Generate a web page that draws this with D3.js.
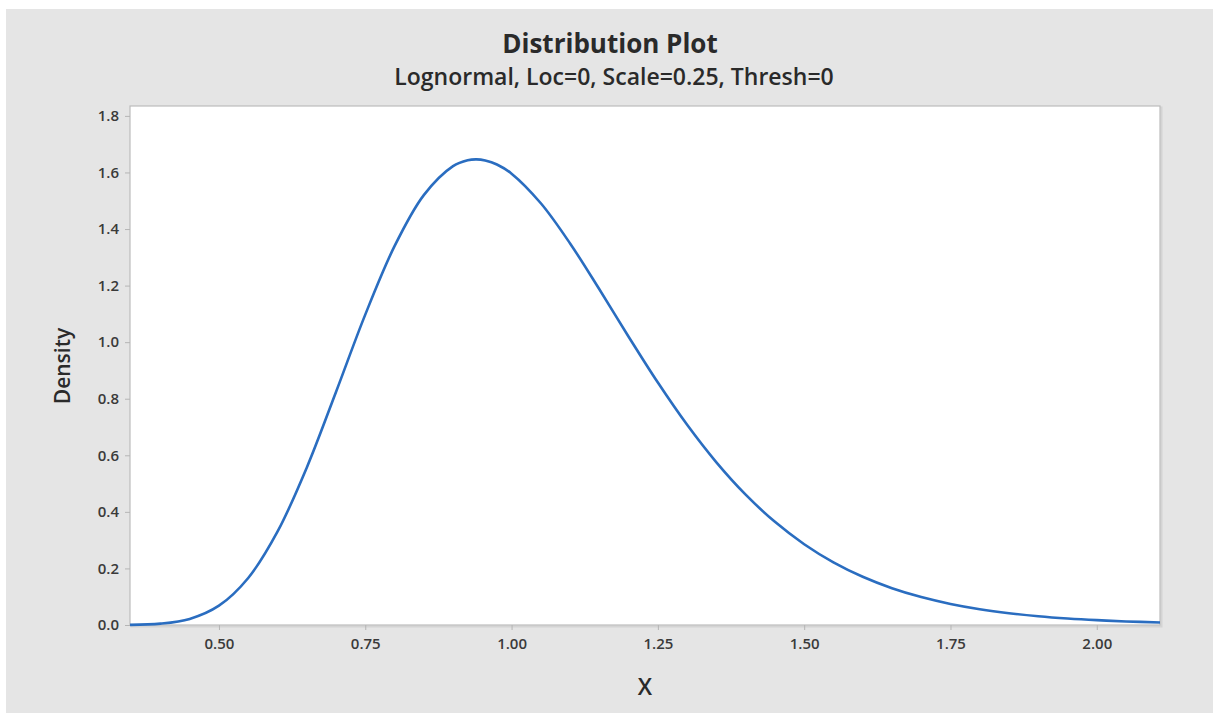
<!DOCTYPE html>
<html>
<head>
<meta charset="utf-8">
<script src="https://cdn.jsdelivr.net/npm/d3@7"></script>
<style>
  html, body { margin: 0; padding: 0; background: #fff; }
  svg { display: block; font-family: "Open Sans", "Noto Sans", sans-serif; }
</style>
</head>
<body>
<svg id="chart" width="1213" height="713"></svg>
<script>
  const W = 1213;
  const H = 713;

  const TITLE = 'Distribution Plot';
  const SUBTITLE = 'Lognormal, Loc=0, Scale=0.25, Thresh=0';
  const X_LABEL = 'X';
  const Y_LABEL = 'Density';

  const xs = [0.348, 0.40, 0.45, 0.50, 0.55, 0.60, 0.65, 0.70, 0.75, 0.80, 0.85, 0.90, 0.925, 0.94, 0.955, 0.975,
    1.00, 1.05, 1.10, 1.15, 1.20, 1.25, 1.30, 1.35, 1.40, 1.45, 1.50, 1.55, 1.60, 1.65, 1.70,
    1.75, 1.80, 1.85, 1.90, 1.95, 2.00, 2.05, 2.108];
  const density = [0.0006, 0.0048, 0.0216, 0.0683, 0.1663, 0.3298, 0.5563, 0.8239, 1.0974, 1.3393, 1.5198, 1.6224, 1.6433, 1.6464, 1.6424, 1.6283,
    1.5958, 1.4911, 1.3490, 1.1869, 1.0193, 0.8571, 0.7077, 0.5751, 0.4608, 0.3647, 0.2856, 0.2215, 0.1704, 0.1301, 0.0987,
    0.0745, 0.0559, 0.0418, 0.0311, 0.0231, 0.0171, 0.0126, 0.0088];

  const xTicks = [0.50, 0.75, 1.00, 1.25, 1.50, 1.75, 2.00];
  const yTicks = [0.0, 0.2, 0.4, 0.6, 0.8, 1.0, 1.2, 1.4, 1.6, 1.8];

  const plot = { left: 130, right: 1160, top: 106, bottom: 625 };

  const svg = d3.select('#chart');

  // outer panel
  svg.append('rect')
    .attr('x', 6).attr('y', 9)
    .attr('width', W - 6).attr('height', H - 9)
    .attr('fill', '#e5e5e5');

  const x = d3.scaleLinear().domain([0.348, 2.108]).range([plot.left, plot.right]);
  const y = d3.scaleLinear().domain([0, 1.835]).range([plot.bottom, plot.top]);

  // plot area
  svg.append('rect')
    .attr('x', plot.left + 1.5).attr('y', plot.top + 1.5)
    .attr('width', plot.right - plot.left).attr('height', plot.bottom - plot.top)
    .attr('fill', 'none').attr('stroke', '#d4d4d4').attr('stroke-width', 2);
  svg.append('rect')
    .attr('x', plot.left).attr('y', plot.top)
    .attr('width', plot.right - plot.left).attr('height', plot.bottom - plot.top)
    .attr('fill', '#fff').attr('stroke', '#bcbcbc').attr('stroke-width', 1.2);

  const xAxis = svg.append('g')
    .attr('transform', `translate(0,${plot.bottom})`)
    .call(d3.axisBottom(x).tickValues(xTicks).tickFormat(d3.format('.2f')).tickSize(5).tickPadding(8));
  const yAxis = svg.append('g')
    .attr('transform', `translate(${plot.left},0)`)
    .call(d3.axisLeft(y).tickValues(yTicks).tickFormat(d3.format('.1f')).tickSize(5).tickPadding(6));

  [xAxis, yAxis].forEach(g => {
    g.select('.domain').remove();
    g.selectAll('.tick line').attr('stroke', '#b5b5b5');
    g.selectAll('.tick text')
      .attr('fill', '#3a3a3a')
      .style('font-size', '15px')
      .style('font-weight', '600')
      .style('font-family', '"Open Sans", "Noto Sans", sans-serif');
  });

  // curve
  const pts = xs.map((v, i) => [v, density[i]]);
  svg.append('path')
    .datum(pts)
    .attr('fill', 'none')
    .attr('stroke', '#2a6dc0')
    .attr('stroke-width', 2.6)
    .attr('d', d3.line().x(d => x(d[0])).y(d => y(d[1])).curve(d3.curveCatmullRom.alpha(0.5)));

  // titles
  svg.append('text')
    .attr('x', 610).attr('y', 53)
    .attr('text-anchor', 'middle')
    .attr('fill', '#2a2a2a')
    .style('font-size', '26px').style('font-weight', '700')
    .text(TITLE);
  svg.append('text')
    .attr('x', 614).attr('y', 85)
    .attr('text-anchor', 'middle')
    .attr('fill', '#2a2a2a')
    .style('font-size', '23px').style('font-weight', '600')
    .text(SUBTITLE);

  svg.append('text')
    .attr('x', 645).attr('y', 695)
    .attr('text-anchor', 'middle')
    .attr('fill', '#2a2a2a')
    .style('font-size', '23px').style('font-weight', '600')
    .text(X_LABEL);
  svg.append('text')
    .attr('transform', 'translate(70,366) rotate(-90)')
    .attr('text-anchor', 'middle')
    .attr('fill', '#2a2a2a')
    .style('font-size', '21px').style('font-weight', '600')
    .text(Y_LABEL);
</script>
</body>
</html>
